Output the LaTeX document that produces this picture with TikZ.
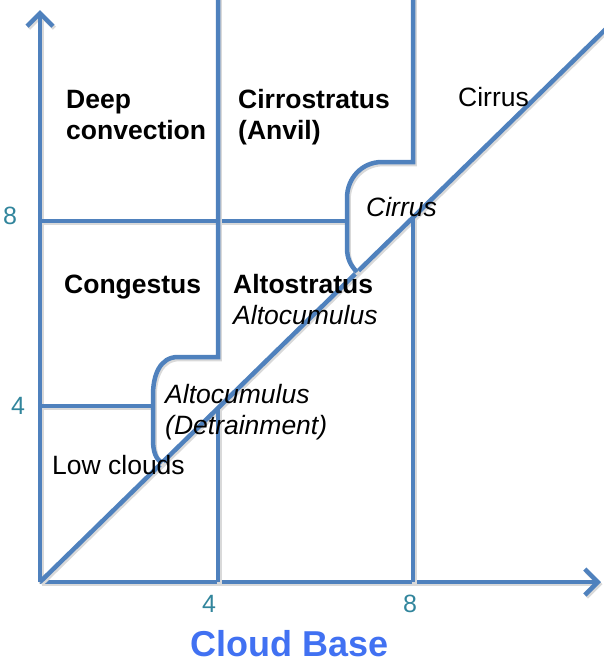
\documentclass[tikz,border=0pt]{standalone}
\usepackage{fontspec}
\setmainfont{Liberation Sans}
\usetikzlibrary{arrows.meta,positioning,calc}
\definecolor{cloudBlue}{HTML}{4F81BD}
\definecolor{cloudTeal}{HTML}{31859C}
\definecolor{cloudTitle}{HTML}{4171F2}

\begin{document}
\begin{tikzpicture}[x=1pt,y=-1pt,
    bnd/.style={cloudBlue,line width=4.5pt,
                preaction={draw=black!15,line width=4.5pt,transform canvas={shift={(1.5pt,-2pt)}}}},
    axis/.style={bnd,-{Straight Barb[length=13pt,width=26pt]}},
    lbl/.style={anchor=base west,inner sep=0pt,align=left,font=\fontsize{26.5}{31}\selectfont},
    tick/.style={inner sep=0pt,text=cloudTeal,font=\fontsize{25}{28}\selectfont}]
  \useasboundingbox (0,0) rectangle (603,664);
  % axes and diagonal
  \coordinate (O) at (40,582);
  \coordinate (ytop) at (40,10);
  \coordinate (xend) at (601,582);
  \coordinate (dend) at (612,23);
  \draw[axis] (O) -- (ytop);
  \draw[axis] (O) -- (xend);
  \draw[bnd] (O) -- (dend);
  % regime boundaries
  \draw[bnd] (40,221) -- (347,221);
  \draw[bnd] (40,406) -- (153,406);
  \draw[bnd] (218,-5) -- (218,357) -- (178,357)
    .. controls (160,357) and (153,375) .. (153,395) -- (153,440)
    .. controls (153,452) and (156,459) .. (162,463);
  \draw[bnd] (413,-5) -- (413,162) -- (382,162)
    .. controls (362,162) and (347,178) .. (347,198) -- (347,248)
    .. controls (347,259) and (351,266) .. (357,272);
  \draw[bnd] (218,408) -- (218,582);
  \draw[bnd] (413,218) -- (413,582);
  % ticks
  \node[tick] (y8) at (10,216) {8};
  \node[tick] (y4) at (18,406) {4};
  \node[tick] (x4) at (209,604) {4};
  \node[tick] (x8) at (410,604) {8};
  \node[anchor=base,inner sep=0pt,font=\fontsize{36}{40}\selectfont\bfseries,text=cloudTitle] (xlab) at (290,656) {Cloud Base};
  % cloud types
  \node[lbl,font=\fontsize{26.5}{31}\selectfont\bfseries] (deep) at (66,139) {Deep\\convection};
  \node[lbl,font=\fontsize{26.5}{31}\selectfont\bfseries] (anvil) at (238,139) {Cirrostratus\\(Anvil)};
  \node[lbl] (ci1) at (458,106) {Cirrus};
  \node[lbl,font=\fontsize{26.5}{31}\selectfont\itshape] (ci2) at (366,216) {Cirrus};
  \node[lbl,font=\fontsize{26.5}{31}\selectfont\bfseries] (cong) at (64,293) {Congestus};
  \node[lbl,font=\fontsize{26.5}{31}\selectfont\bfseries] (ast) at (233,293) {Altostratus};
  \node[lbl,font=\fontsize{26.5}{31}\selectfont\itshape] (acu) at (233,324) {Altocumulus};
  \node[lbl,font=\fontsize{26.5}{31}\selectfont\itshape] (detr) at (165,434) {Altocumulus\\(Detrainment)};
  \node[lbl] (low) at (52,474) {Low clouds};
\end{tikzpicture}
\end{document}
